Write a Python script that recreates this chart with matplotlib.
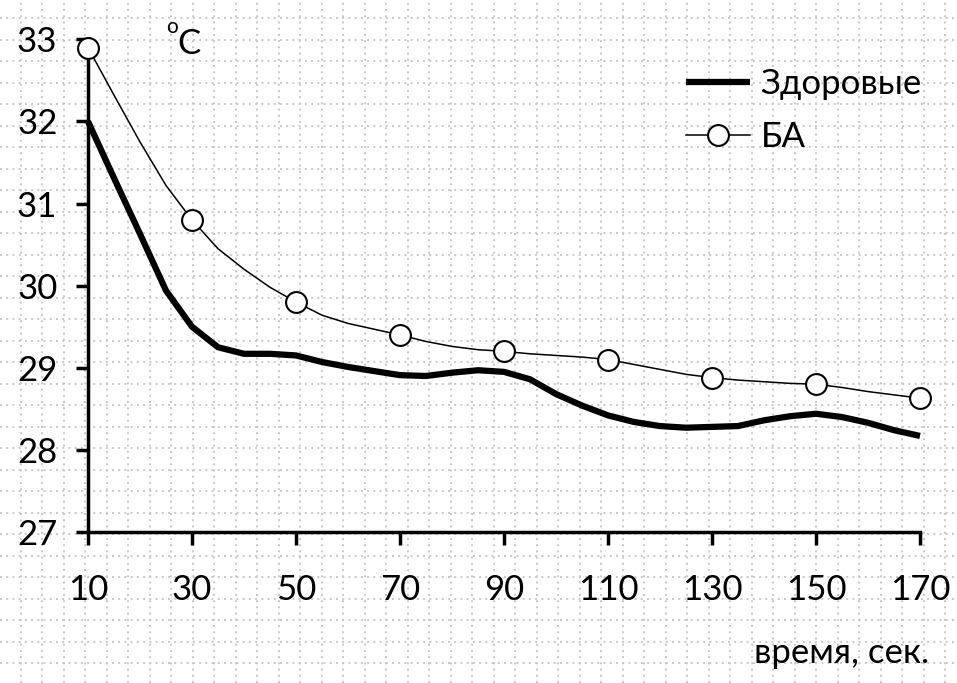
import matplotlib.pyplot as plt

# данные (время, сек.; температура, °C)
t = [10, 15, 20, 25, 30, 35, 40, 45, 50, 55, 60, 65, 70, 75, 80, 85, 90,
     95, 100, 105, 110, 115, 120, 125, 130, 135, 140, 145, 150, 155, 160, 165, 170]
zdorovye = [32.0, 31.31, 30.63, 29.94, 29.5, 29.25, 29.17, 29.17, 29.15, 29.07,
            29.01, 28.96, 28.91, 28.9, 28.94, 28.97, 28.95, 28.86, 28.68, 28.54,
            28.42, 28.34, 28.29, 28.27, 28.28, 28.29, 28.36, 28.41, 28.44, 28.40,
            28.33, 28.24, 28.17]
ba = [32.9, 32.32, 31.75, 31.22, 30.8, 30.45, 30.2, 29.98, 29.8, 29.64,
      29.54, 29.47, 29.4, 29.32, 29.26, 29.22, 29.2, 29.17, 29.15, 29.13,
      29.1, 29.04, 28.98, 28.92, 28.88, 28.85, 28.83, 28.81, 28.8, 28.76,
      28.71, 28.67, 28.63]
xticks = [10, 30, 50, 70, 90, 110, 130, 150, 170]
yticks = [27, 28, 29, 30, 31, 32, 33]

plt.rcParams['font.family'] = ['Lato', 'Open Sans', 'DejaVu Sans']
fs = 25

W, H = 957, 683
fig = plt.figure(figsize=(W / 100, H / 100), dpi=100)

# фон "миллиметровка"
bg = fig.add_axes([0, 0, 1, 1], zorder=0)
bg.set_xlim(0, W)
bg.set_ylim(H, 0)
bg.axis('off')
step = 21.5
gx = [20.7 + step * k for k in range(45)]
gy = [18.0 + step * k for k in range(32)]
for x in gx:
    bg.axvline(x, color='#c8c8c8', lw=1.4, ls=(0, (1, 2.2)))
for y in gy:
    bg.axhline(y, color='#c8c8c8', lw=1.4, ls=(0, (1, 2.2)))

ax = fig.add_axes([88 / W, (H - 532) / H, 832 / W, 492.7 / H], zorder=1)
ax.patch.set_alpha(0)

ax.plot(t, zdorovye, color='black', lw=4.5, solid_capstyle='butt', label='Здоровые',
        clip_on=False, zorder=3)
ax.plot(t, ba, color='black', lw=1.1, marker='o', markersize=15, markerfacecolor='white',
        markeredgewidth=1.5, markevery=4, label='БА', clip_on=False, zorder=4)

ax.set_xlim(10, 170)
ax.set_ylim(27, 33)
ax.set_xticks(xticks)
ax.set_yticks(yticks)
for s in ['top', 'right']:
    ax.spines[s].set_visible(False)
for s in ['left', 'bottom']:
    ax.spines[s].set_linewidth(2.5)
ax.tick_params(axis='both', direction='out', width=2.5, length=9, labelsize=fs)
ax.tick_params(axis='y', pad=13)
ax.tick_params(axis='x', pad=21)

fig.text(166 / W, 1 - 27 / H, 'o', fontsize=15, ha='left', va='center')
fig.text(177 / W, 1 - 44 / H, 'C', fontsize=fs, ha='left', va='center')

ax.legend(loc='upper left', bbox_to_anchor=(686 / W, 1 - 68 / H), bbox_transform=fig.transFigure,
          frameon=False, fontsize=fs, handlelength=1.85, handletextpad=0.3,
          labelspacing=0.6, borderpad=0, borderaxespad=0)

fig.text(929 / W, 1 - 653 / H, 'время, сек.', fontsize=fs, ha='right', va='center')

fig.savefig('out.png', dpi=100)
